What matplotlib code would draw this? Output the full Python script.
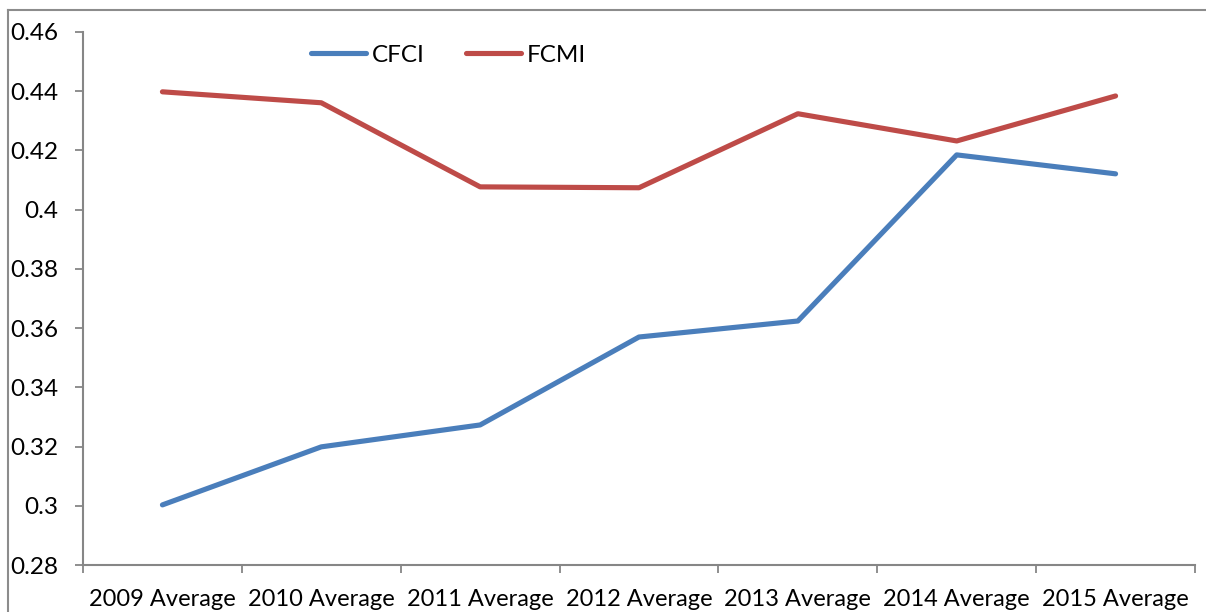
import matplotlib
matplotlib.use("Agg")
import matplotlib.pyplot as plt
from matplotlib.lines import Line2D

categories = ["2009 Average", "2010 Average", "2011 Average", "2012 Average",
              "2013 Average", "2014 Average", "2015 Average"]
cfci = [0.3003, 0.3199, 0.3273, 0.3570, 0.3624, 0.4185, 0.4121]
fcmi = [0.4398, 0.4361, 0.4077, 0.4074, 0.4324, 0.4232, 0.4384]
yticks = [0.28, 0.3, 0.32, 0.34, 0.36, 0.38, 0.4, 0.42, 0.44, 0.46]
ylabels = ["0.28", "0.3", "0.32", "0.34", "0.36", "0.38", "0.4", "0.42", "0.44", "0.46"]

plt.rcParams['font.family'] = ['Lato', 'DejaVu Sans']

W, H = 1206, 612
fig = plt.figure(figsize=(W / 100, H / 100), dpi=100)
ax = fig.add_axes([83 / W, 1 - 565 / H, (1195 - 83) / W, (565 - 32) / H])

blue = "#4A7EBB"
red = "#BE4B48"
x = list(range(len(categories)))
ax.plot(x, cfci, color=blue, lw=3.7, solid_capstyle='round', solid_joinstyle='round', label="CFCI")
ax.plot(x, fcmi, color=red, lw=3.7, solid_capstyle='round', solid_joinstyle='round', label="FCMI")

ax.set_xlim(-0.5, len(categories) - 0.5)
ax.set_ylim(0.28, 0.46)
ax.set_yticks(yticks)
ax.set_yticklabels(ylabels)
ax.set_xticks(x)
ax.set_xticklabels(categories)
ax.set_xticks([i - 0.5 for i in range(len(categories) + 1)], minor=True)
ax.tick_params(axis='x', which='major', length=0, pad=17, labelsize=17)
ax.tick_params(axis='x', which='minor', length=6, width=1.3, color='#868686', direction='out')
ax.tick_params(axis='y', length=6, width=1.3, color='#868686', pad=12, labelsize=17.5)

for s in ['top', 'right']:
    ax.spines[s].set_visible(False)
for s in ['left', 'bottom']:
    ax.spines[s].set_color('#868686')
    ax.spines[s].set_linewidth(1.5)

leg = ax.legend(loc='upper left', bbox_to_anchor=((289 - 83) / (1195 - 83), 1.017), ncol=2,
                frameon=False, fontsize=17.5, handlelength=2.25, handletextpad=0.25,
                columnspacing=1.7)

# outer chart border (top and left visible)
fig.add_artist(Line2D([8 / W, 8 / W], [0, 1 - 10 / H], color='#8c8c8c', lw=1.5))
fig.add_artist(Line2D([8 / W, 1], [1 - 10 / H, 1 - 10 / H], color='#8c8c8c', lw=1.5))

fig.savefig("out.png", dpi=100)
